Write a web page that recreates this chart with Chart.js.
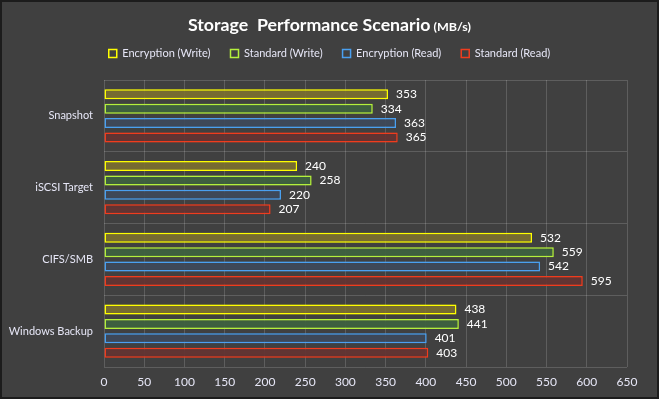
<!DOCTYPE html>
<html>
<head>
<meta charset="utf-8">
<script src="https://cdn.jsdelivr.net/npm/chart.js@4.4.0/dist/chart.umd.min.js"></script>
<style>
    html, body { margin: 0; padding: 0; background: #404040; }
    #wrap { width: 659px; height: 399px; box-sizing: border-box; border: 2px solid #1c1c1c; background: #404040; }
</style>
</head>
<body>
<div id="wrap"><canvas id="perfChart" width="655" height="395"></canvas></div>
<script>
const categories = ['Snapshot', 'iSCSI Target', 'CIFS/SMB', 'Windows Backup'];
const encWrite = [353, 240, 532, 438];
const stdWrite = [334, 258, 559, 441];
const encRead = [363, 220, 542, 401];
const stdRead = [365, 207, 595, 403];
const xTicks = [0, 50, 100, 150, 200, 250, 300, 350, 400, 450, 500, 550, 600, 650];

const FONT = "Lato, 'Open Sans', sans-serif";
const TEXT = '#e6e6f6';

function makeSet(label, data, border, fill) {
    return {
        label: label,
        data: data,
        borderColor: border,
        backgroundColor: fill,
        borderWidth: 1.5,
        borderSkipped: false,
        categoryPercentage: 0.8,
        barPercentage: 0.7
    };
}

// title, with the unit in a smaller size
const titlePlugin = {
    id: 'titleText',
    afterDraw(chart) {
        const ctx = chart.ctx;
        const main = 'Storage  Performance Scenario';
        const unit = ' (MB/s)';
        ctx.save();
        ctx.textBaseline = 'alphabetic';
        ctx.textAlign = 'left';
        ctx.fillStyle = '#ffffff';
        ctx.font = 'bold 17px ' + FONT;
        const w1 = ctx.measureText(main).width;
        ctx.font = 'bold 12px ' + FONT;
        const w2 = ctx.measureText(unit).width;
        const target = 283;
        const sx = target / (w1 + w2);
        ctx.translate((chart.width - target) / 2, 0);
        ctx.scale(sx, 1);
        ctx.font = 'bold 17px ' + FONT;
        ctx.fillText(main, 0, 29);
        ctx.font = 'bold 12px ' + FONT;
        ctx.fillText(unit, w1, 29);
        ctx.restore();
    }
};

// legend: a bit more room below it, and centred over the whole picture
const legendPlugin = {
    id: 'legendFit',
    beforeInit(chart) {
        const fit = chart.legend.fit;
        chart.legend.fit = function () {
            fit.call(this);
            this.height += 11;
        };
    },
    afterLayout(chart) {
        chart.legend.left += 15;
        chart.legend.right += 15;
    }
};

// soft glow around the bars
const glowPlugin = {
    id: 'barGlow',
    beforeDatasetDraw(chart, args) {
        const ds = chart.data.datasets[args.index];
        chart.ctx.save();
        chart.ctx.shadowColor = ds.borderColor + '66';
        chart.ctx.shadowBlur = 4;
    },
    afterDatasetDraw(chart) {
        chart.ctx.restore();
    }
};

// value labels at the end of each bar
const valuePlugin = {
    id: 'barValues',
    afterDatasetsDraw(chart) {
        const ctx = chart.ctx;
        ctx.save();
        ctx.font = '12px ' + FONT;
        ctx.fillStyle = '#ffffff';
        ctx.textBaseline = 'middle';
        ctx.textAlign = 'left';
        chart.data.datasets.forEach((ds, i) => {
            chart.getDatasetMeta(i).data.forEach((bar, j) => {
                ctx.fillText(ds.data[j], bar.x + 8, bar.y);
            });
        });
        ctx.restore();
    }
};

new Chart(document.getElementById('perfChart'), {
    type: 'bar',
    data: {
        labels: categories,
        datasets: [
            makeSet('Encryption (Write)', encWrite, '#ffff00', 'rgba(118, 104, 50, 0.85)'),
            makeSet('Standard (Write)', stdWrite, '#b4f03c', 'rgba(58, 92, 64, 0.9)'),
            makeSet('Encryption (Read)', encRead, '#4aa0f0', 'rgba(62, 70, 84, 0.9)'),
            makeSet('Standard (Read)', stdRead, '#f03c1e', 'rgba(94, 52, 52, 0.9)')
        ]
    },
    options: {
        indexAxis: 'y',
        responsive: false,
        animation: false,
        layout: { padding: { top: 26, right: 30, left: 0, bottom: 0 } },
        plugins: {
            title: { display: false },
            tooltip: { enabled: false },
            legend: {
                position: 'top',
                labels: {
                    color: TEXT,
                    font: { family: FONT, size: 11 },
                    boxWidth: 8,
                    boxHeight: 8,
                    padding: 20,
                    generateLabels(chart) {
                        return chart.data.datasets.map((ds, i) => ({
                            text: ds.label,
                            fillStyle: 'rgba(0,0,0,0)',
                            strokeStyle: ds.borderColor,
                            lineWidth: 1.5,
                            fontColor: TEXT,
                            datasetIndex: i
                        }));
                    }
                }
            }
        },
        scales: {
            x: {
                min: 0,
                max: 650,
                afterBuildTicks(axis) {
                    axis.ticks = xTicks.map(v => ({ value: v }));
                },
                afterFit(axis) { axis.height = 30; },
                ticks: { color: TEXT, font: { family: FONT, size: 12 }, padding: 8 },
                grid: { color: 'rgba(255,255,255,0.16)', drawTicks: false },
                border: { display: false }
            },
            y: {
                offset: true,
                afterFit(axis) { axis.width = 102; },
                ticks: { color: TEXT, font: { family: FONT, size: 11 }, padding: 11 },
                grid: { offset: true, color: 'rgba(255,255,255,0.16)', drawTicks: false },
                border: { display: false }
            }
        }
    },
    plugins: [titlePlugin, legendPlugin, glowPlugin, valuePlugin]
});
</script>
</body>
</html>
